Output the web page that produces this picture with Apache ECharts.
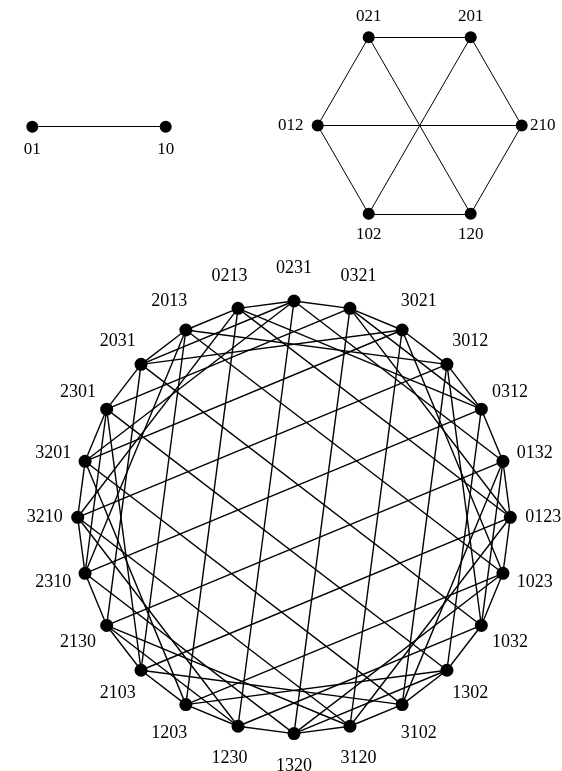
<!DOCTYPE html>
<html>
<head>
<meta charset="utf-8">
<script src="https://cdn.jsdelivr.net/npm/echarts@6/dist/echarts.min.js"></script>
<style>
  html, body { margin: 0; padding: 0; background: #fff; }
  #chart { width: 562px; height: 771px; }
</style>
</head>
<body>
<div id="chart"></div>
<script>
// Arrangements of {0,1}, {0,1,2} and {0,1,2,3}; each list runs
// counter-clockwise from the rightmost vertex of its drawing.
const perms2 = ['10', '01'];
const perms3 = ['210', '201', '021', '012', '102', '120'];
const perms4 = [
  '0123', '0132', '0312', '3012', '3021', '0321', '0231', '0213',
  '2013', '2031', '2301', '3201', '3210', '2310', '2130', '2103',
  '1203', '1230', '1320', '3120', '3102', '1302', '1032', '1023'
];

// Two arrangements are joined when they differ by swapping two entries.
function oneSwapApart(a, b) {
  let diff = 0;
  for (let k = 0; k < a.length; k++) if (a[k] !== b[k]) diff++;
  return diff === 2;
}

function buildLinks(perms) {
  const links = [];
  for (let i = 0; i < perms.length; i++) {
    for (let j = i + 1; j < perms.length; j++) {
      if (oneSwapApart(perms[i], perms[j])) {
        links.push({ source: perms[i], target: perms[j] });
      }
    }
  }
  return links;
}

const FONT = '"Liberation Serif", "Times New Roman", serif';

// Label placement rules for each drawing
function radialOffset(deg) {
  const d = 33, t = deg * Math.PI / 180;
  return [d * Math.cos(t), -d * Math.sin(t)];
}
function hexOffset(deg) {
  const s = Math.sin(deg * Math.PI / 180), c = Math.cos(deg * Math.PI / 180);
  if (s > 0.5) return [0, -21];
  if (s < -0.5) return [0, 21];
  return c > 0 ? [21, 0] : [-27, 0];
}
function belowOffset() { return [0, 22.5]; }

function graphSeries(perms, polarIndex, cfg) {
  const step = 360 / perms.length;
  const nodes = perms.map((p, i) => {
    const ang = i * step;
    return {
      name: p,
      value: [1, ang],
      label: { offset: cfg.labelOffset(ang) }
    };
  });
  return {
    type: 'graph',
    coordinateSystem: 'polar',
    polarIndex: polarIndex,
    layout: 'none',
    silent: true,
    symbol: 'circle',
    symbolSize: cfg.symbolSize,
    itemStyle: { color: '#000' },
    lineStyle: { color: '#000', width: cfg.lineWidth, opacity: 1, curveness: 0 },
    label: {
      show: true,
      position: 'inside',
      align: 'center',
      verticalAlign: 'middle',
      color: '#000',
      fontFamily: FONT,
      fontSize: cfg.fontSize,
      formatter: '{b}'
    },
    emphasis: { disabled: true },
    data: nodes,
    links: buildLinks(perms)
  };
}

const chart = echarts.init(document.getElementById('chart'), null, { renderer: 'canvas' });

const polars = [
  { center: [99, 126.7], radius: [0, 66.7] },
  { center: [419.7, 125.5], radius: [0, 102] },
  { center: [294, 517.3], radius: [0, 216.3] }
];

chart.setOption({
  animation: false,
  backgroundColor: '#fff',
  polar: polars,
  angleAxis: polars.map((_, i) => ({
    polarIndex: i, type: 'value', min: 0, max: 360,
    startAngle: 0, clockwise: false, show: false
  })),
  radiusAxis: polars.map((_, i) => ({
    polarIndex: i, type: 'value', min: 0, max: 1, show: false
  })),
  series: [
    graphSeries(perms2, 0, { symbolSize: 12, lineWidth: 1, fontSize: 17, labelOffset: belowOffset }),
    graphSeries(perms3, 1, { symbolSize: 12, lineWidth: 1, fontSize: 17, labelOffset: hexOffset }),
    graphSeries(perms4, 2, { symbolSize: 13, lineWidth: 1.4, fontSize: 18, labelOffset: radialOffset })
  ]
});
</script>
</body>
</html>
